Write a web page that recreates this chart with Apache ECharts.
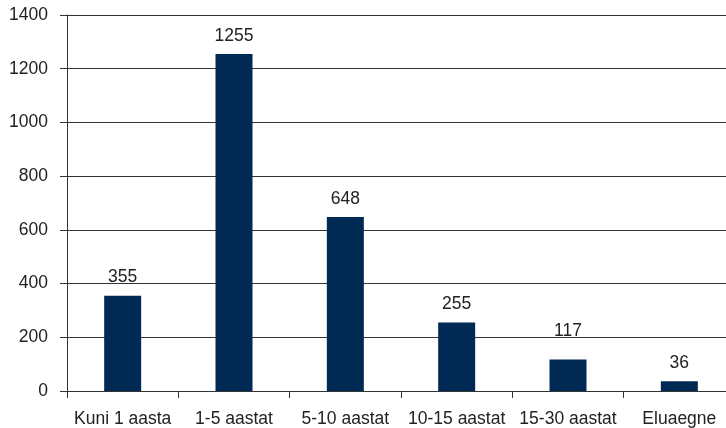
<!DOCTYPE html>
<html><head><meta charset="utf-8">
<script src="https://cdn.jsdelivr.net/npm/echarts@6/dist/echarts.min.js"></script>
<style>html,body{margin:0;padding:0;background:#fff;overflow:hidden}#c{width:735px;height:428px}</style>
</head><body><div id="c"></div>
<script>
const categories = ['Kuni 1 aasta','1-5 aastat','5-10 aastat','10-15 aastat','15-30 aastat','Eluaegne'];
const values = [355,1255,648,255,117,36];
const chart = echarts.init(document.getElementById('c'));
const font = 'Liberation Sans, Arial, Helvetica, sans-serif';
// the reference places the "117" label a little higher than the others
const seriesData = values.map((v, i) => i === 4 ? {value: v, label: {distance: 19}} : v);
chart.setOption({
  animation:false,
  grid:{left:67,right:0,top:15,bottom:36,containLabel:false},
  xAxis:{type:'category',data:categories,
    axisLine:{lineStyle:{color:'#333',width:1}},
    axisTick:{show:true,length:7,lineStyle:{color:'#333'},alignWithLabel:false},
    axisLabel:{color:'#222',fontSize:17.5,fontFamily:font,margin:19,interval:0}},
  yAxis:{type:'value',min:0,max:1400,interval:200,
    axisLine:{show:true,lineStyle:{color:'#333',width:1}},
    axisTick:{show:true,length:7,lineStyle:{color:'#333'}},
    axisLabel:{color:'#222',fontSize:17.5,fontFamily:font,margin:19,formatter:v=>String(v)},
    splitLine:{show:true,lineStyle:{color:'#333',width:1}}},
  series:[{type:'bar',data:seriesData,barWidth:37,
    itemStyle:{color:'#002a54'},
    label:{show:true,position:'top',distance:9,color:'#222',fontSize:17.5,fontFamily:font}}]
});
</script></body></html>
